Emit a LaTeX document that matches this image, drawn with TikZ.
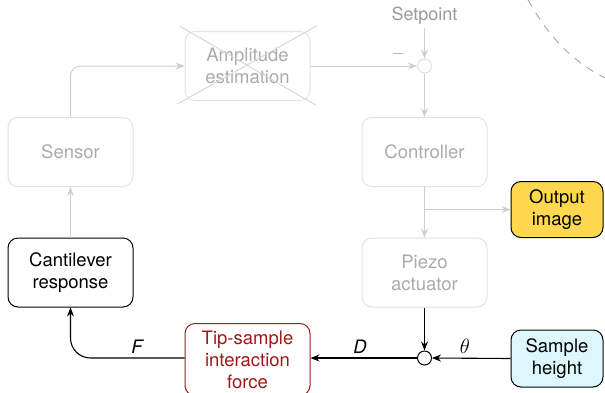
\documentclass[tikz,border=0pt]{standalone}
\usepackage{fontspec}
\setmainfont{TeX Gyre Heros}
\usetikzlibrary{arrows.meta}
\definecolor{faintline}{HTML}{E2E2E2}
\definecolor{faintcross}{HTML}{D8D8D8}
\definecolor{fainttext}{HTML}{ABABAB}
\definecolor{faintarrow}{HTML}{CFCFCF}
\definecolor{tipred}{HTML}{A01818}
\definecolor{outfill}{HTML}{FFD84F}
\definecolor{samplefill}{HTML}{DDF7FD}
\tikzset{
  block/.style={rounded corners=10pt, minimum width=125pt, minimum height=69pt,
    align=center, font=\fontsize{18.5}{22}\selectfont, line width=1pt, inner sep=2pt},
  ghost/.style={block, draw=faintline, text=fainttext},
  live/.style={block, draw=black, text=black},
  ghostflow/.style={draw=faintarrow, line width=1pt, -{Stealth[length=9pt,width=7pt]}},
  liveflow/.style={draw=black, line width=1.1pt, -{Stealth[length=9pt,width=7pt]}},
  junction/.style={circle, minimum size=14pt, inner sep=0pt, line width=1pt},
  sig/.style={font=\fontsize{18.5}{20}\selectfont\itshape}
}
\begin{document}
\begin{tikzpicture}[x=1pt, y=-1pt]
\useasboundingbox (0,0) rectangle (605,392);

% faded upper loop
\node[ghost] (sensor) at (70.5,152) {Sensor};
\node[ghost] (amp) at (247.5,66) {Amplitude\\estimation};
\node[ghost] (ctrl) at (424.5,152) {Controller};
\node[ghost] (piezo) at (424.5,272.5) {Piezo\\actuator};
\node[junction, draw=faintline, fill=white] (sum1) at (424.5,66) {};
\node[text=fainttext!90!black, font=\fontsize{18}{20}\selectfont] (setp) at (424.5,16) {Setpoint};
\node[text=fainttext!90!black, font=\fontsize{17}{18}\selectfont] (minus) at (398,54) {$-$};

% crossed-out estimator
\draw[faintcross, line width=1pt] ([shift={(-5,-5)}]amp.north west) -- ([shift={(5,4)}]amp.south east);
\draw[faintcross, line width=1pt] ([shift={(6,-5)}]amp.north east) -- ([shift={(-7,3)}]amp.south west);

% highlighted blocks
\node[live] (cant) at (70.5,272.5) {Cantilever\\response};
\node[block, draw=tipred, text=tipred, minimum height=72pt] (tip) at (247.5,359.5) {Tip-sample\\interaction\\force};
\node[block, draw=black, fill=outfill, minimum width=92pt, minimum height=56pt] (out) at (557,209.5) {Output\\image};
\node[block, draw=black, fill=samplefill, minimum width=92pt, minimum height=57pt] (samp) at (557,358.5) {Sample\\height};
\node[junction, draw=black, fill=white] (sum2) at (424.5,358) {};

% faded connectors
\draw[ghostflow, rounded corners=10pt] (sensor.north) |- (amp.west);
\draw[ghostflow] (amp.east) -- (sum1.west);
\draw[ghostflow] (setp.south) -- (sum1.north);
\draw[ghostflow] (sum1.south) -- (ctrl.north);
\draw[ghostflow] (ctrl.south) -- (piezo.north);
\coordinate (branch) at (424.5,209.5);
\draw[ghostflow] (branch) -- (out.west);
\draw[ghostflow] (cant.north) -- (sensor.south);

% active connectors
\draw[liveflow] (piezo.south) -- (sum2.north);
\draw[liveflow] (samp.west) -- (sum2.east);
\draw[liveflow] (sum2.west) -- (sum2.west -| tip.east);
\draw[liveflow, rounded corners=20pt] (tip.west |- sum2.west) -| (cant.south);

% signal labels
\node[sig] (lf) at (137,347) {F};
\node[sig] (ld) at (360,347) {D};
\node[font=\fontsize{17.28}{20}\selectfont] (lt) at (465,346) {\scalebox{1.2}{$\theta$}};

% dashed boundary
\draw[gray!70, line width=0.9pt, dash pattern=on 8pt off 7pt]
  (528,0) .. controls (548,35) and (570,60) .. (605,78);
\end{tikzpicture}
\end{document}
